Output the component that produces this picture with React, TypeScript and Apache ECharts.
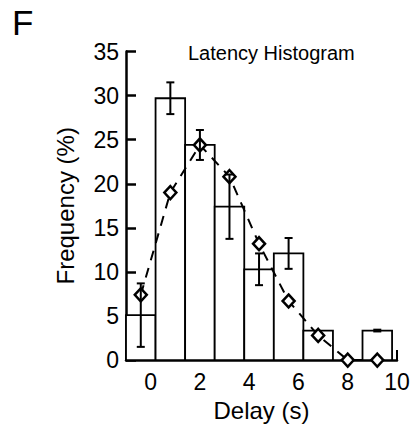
import React, { useEffect, useRef } from "react";
import * as echarts from "echarts";

const binCenters = [-0.4, 0.8, 2.0, 3.2, 4.4, 5.6, 6.8, 8.0, 9.2];
const barValues = [5.1, 29.7, 24.4, 17.4, 10.3, 12.1, 3.35, 0, 3.35];
const barErrors = [3.6, 1.8, 1.7, 3.65, 1.8, 1.75, null, null, 0.1];
const fitValues = [7.4, 19.0, 24.4, 20.8, 13.2, 6.7, 2.8, 0, 0];
const xTickLabels = ["0", "2", "4", "6", "8", "10"];
const binWidth = 1.2;

const FONT = "'Liberation Sans', Arial, Helvetica, sans-serif";

export default function App() {
  const ref = useRef<HTMLDivElement>(null);
  useEffect(() => {
    if (!ref.current) return;
    const chart = echarts.init(ref.current, undefined, { renderer: "svg" });
    const barData = binCenters.map((x, i) => [x, barValues[i]]);
    const errData = binCenters
      .map((x, i) => [x, barValues[i], barErrors[i]])
      .filter((d) => d[2] !== null);
    const fitData = binCenters.map((x, i) => [x, fitValues[i]]);
    chart.setOption({
      animation: false,
      backgroundColor: "#fff",
      textStyle: { fontFamily: FONT, color: "#000" },
      grid: { left: 126, right: 16, top: 51.5, bottom: 63, containLabel: false },
      graphic: [
        {
          type: "text",
          left: 12,
          top: 5,
          style: { text: "F", fontSize: 35, fontFamily: FONT, fill: "#000" },
        },
        {
          type: "text",
          left: 188,
          top: 43,
          style: { text: "Latency Histogram", fontSize: 20, fontFamily: FONT, fill: "#000" },
        },
      ],
      xAxis: [
        {
          type: "value",
          min: -1,
          max: 10,
          interval: 1,
          name: "Delay (s)",
          nameLocation: "middle",
          nameGap: 33,
          nameTextStyle: { fontSize: 24, fontFamily: FONT, color: "#000" },
          axisLine: { show: true, onZero: false, lineStyle: { color: "#000", width: 2.5 } },
          axisTick: { show: false },
          splitLine: { show: false },
          axisLabel: {
            fontSize: 23,
            fontFamily: FONT,
            color: "#000",
            margin: 10,
            formatter: (v: number) => {
              const s = String(Math.round(v));
              return xTickLabels.includes(s) && Math.abs(v - Math.round(v)) < 1e-6 ? s : "";
            },
          },
        },
        {
          type: "value",
          min: -1,
          max: 10,
          interval: 11,
          position: "bottom",
          axisLine: { show: false, onZero: false },
          axisLabel: { show: false },
          splitLine: { show: false },
          axisTick: { show: true, inside: true, length: 10, lineStyle: { color: "#000", width: 2 } },
        },
      ],
      yAxis: {
        type: "value",
        min: 0,
        max: 35,
        interval: 5,
        name: "Frequency (%)",
        nameLocation: "middle",
        nameGap: 49,
        nameTextStyle: { fontSize: 24, fontFamily: FONT, color: "#000" },
        axisLine: { show: true, onZero: false, lineStyle: { color: "#000", width: 2.5 } },
        axisTick: { show: true, inside: true, length: 10, lineStyle: { color: "#000", width: 2.5 } },
        splitLine: { show: false },
        axisLabel: { fontSize: 23, fontFamily: FONT, color: "#000", margin: 7 },
      },
      series: [
        {
          type: "custom",
          name: "bars",
          xAxisIndex: 0,
          data: barData,
          z: 1,
          renderItem: (params: any, api: any) => {
            const x = api.value(0);
            const y = api.value(1);
            if (!y) return null;
            const p0 = api.coord([x - binWidth / 2, y]);
            const p1 = api.coord([x + binWidth / 2, 0]);
            return {
              type: "rect",
              shape: { x: p0[0], y: p0[1], width: p1[0] - p0[0], height: p1[1] - p0[1] },
              style: { fill: "#fff", stroke: "#000", lineWidth: 1.8 },
            };
          },
        },
        {
          type: "line",
          name: "fit",
          xAxisIndex: 0,
          data: fitData,
          z: 3,
          symbol: "diamond",
          symbolSize: [12, 13],
          itemStyle: { color: "#fff", borderColor: "#000", borderWidth: 2.5 },
          lineStyle: { color: "#000", width: 2, type: [10, 8] },
        },
        {
          type: "custom",
          name: "errors",
          xAxisIndex: 0,
          data: errData,
          z: 4,
          renderItem: (params: any, api: any) => {
            const x = api.value(0);
            const y = api.value(1);
            const e = api.value(2);
            const top = api.coord([x, y + e]);
            const bot = api.coord([x, y - e]);
            const h = 4;
            const st = { stroke: "#000", lineWidth: 2 };
            return {
              type: "group",
              children: [
                { type: "line", shape: { x1: top[0], y1: top[1], x2: bot[0], y2: bot[1] }, style: st },
                { type: "line", shape: { x1: top[0] - h, y1: top[1], x2: top[0] + h, y2: top[1] }, style: st },
                { type: "line", shape: { x1: bot[0] - h, y1: bot[1], x2: bot[0] + h, y2: bot[1] }, style: st },
              ],
            };
          },
        },
      ],
    });
    return () => chart.dispose();
  }, []);
  return (
    <div
      ref={ref}
      style={{ position: "fixed", left: 0, top: 0, width: 413, height: 427 }}
    />
  );
}
